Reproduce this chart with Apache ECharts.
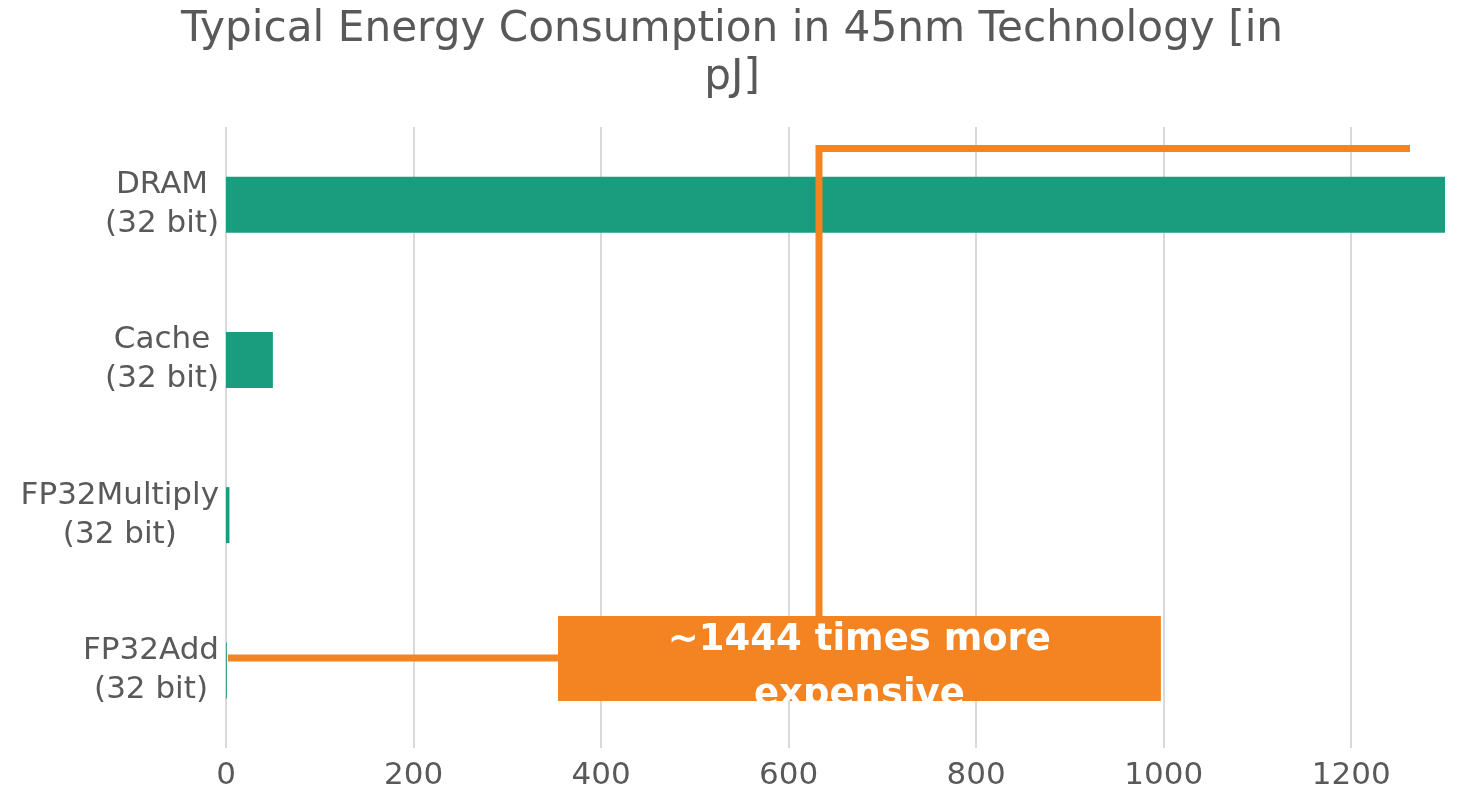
<!DOCTYPE html>
<html>
<head>
<meta charset="utf-8">
<script src="https://cdn.jsdelivr.net/npm/echarts@6/dist/echarts.min.js"></script>
<style>
  html, body { margin: 0; padding: 0; background: #ffffff; }
  #chart { width: 1464px; height: 792px; }
</style>
</head>
<body>
<div id="chart"></div>
<script>
// Energy per operation (pJ), bottom to top on the category axis
var categories = ['FP32Add\n(32 bit)', 'FP32Multiply\n(32 bit)', 'Cache\n(32 bit)', 'DRAM\n(32 bit)'];
var energy = [0.9, 3.7, 50, 1300];
var xTicks = [0, 200, 400, 600, 800, 1000, 1200];

// Callout geometry in data units (x: pJ, y: category index, -0.5..3.5)
var connectorPath = [[2, 0.08], [354, 0.08]];
var leaderPath = [[632.4, 0.35], [632.4, 3.362], [1262.7, 3.362]];
var calloutBox = { x0: 354, x1: 997, yTop: 0.35, yBottom: -0.197 };
var calloutText = '~1444 times more\nexpensive';

var TEXT = '#595959';
var TEAL = '#199d7e';
var ORANGE = '#f48322';
var GRID = '#d9d9d9';
var FONT = 'DejaVu Sans';

var chart = echarts.init(document.getElementById('chart'), null, { renderer: 'canvas' });

chart.setOption({
  animation: false,
  backgroundColor: '#ffffff',
  title: {
    text: 'Typical Energy Consumption in 45nm Technology [in\npJ]',
    left: 'center',
    top: 1,
    textStyle: { fontFamily: FONT, fontSize: 42.2, fontWeight: 'normal', color: TEXT, lineHeight: 48 }
  },
  grid: { left: 226, right: 19, top: 127, bottom: 44 },
  xAxis: [{
    type: 'value',
    min: xTicks[0],
    max: energy[3],
    interval: xTicks[1] - xTicks[0],
    axisLine: { show: false },
    axisTick: { show: false },
    splitLine: { show: true, showMaxLine: false, lineStyle: { color: GRID, width: 2 } },
    axisLabel: {
      showMaxLabel: false,
      margin: 12,
      color: TEXT, fontFamily: FONT, fontSize: 31,
      formatter: function (v) { return String(v); }
    }
  }],
  yAxis: [{
    type: 'category',
    data: categories,
    axisLine: { show: false },
    axisTick: { show: false },
    axisLabel: {
      margin: 7,
      color: TEXT, fontFamily: FONT, fontSize: 31,
      formatter: function (v) {
        return v.split('\n').map(function (s) { return '{c|' + s + '}'; }).join('\n');
      },
      rich: { c: { align: 'center', color: TEXT, fontFamily: FONT, fontSize: 31, lineHeight: 39 } }
    }
  }, {
    type: 'value',
    min: -0.5,
    max: categories.length - 0.5,
    show: false
  }],
  series: [{
    type: 'bar',
    data: energy,
    barWidth: 56,
    itemStyle: { color: TEAL },
    z: 2
  }, {
    type: 'line',
    xAxisIndex: 0,
    yAxisIndex: 1,
    data: connectorPath,
    symbol: 'none',
    silent: true,
    lineStyle: { color: ORANGE, width: 7, cap: 'butt', join: 'miter' },
    z: 3
  }, {
    type: 'line',
    xAxisIndex: 0,
    yAxisIndex: 1,
    data: leaderPath,
    symbol: 'none',
    silent: true,
    lineStyle: { color: ORANGE, width: 7, cap: 'butt', join: 'miter' },
    z: 3
  }, {
    type: 'custom',
    xAxisIndex: 0,
    yAxisIndex: 1,
    silent: true,
    z: 4,
    clip: false,
    data: [[calloutBox.x0, calloutBox.yTop, calloutBox.x1, calloutBox.yBottom]],
    renderItem: function (params, api) {
      var p0 = api.coord([api.value(0), api.value(1)]);
      var p1 = api.coord([api.value(2), api.value(3)]);
      var x = p0[0], y = p0[1], w = p1[0] - p0[0], h = p1[1] - p0[1];
      return {
        type: 'group',
        clipPath: { type: 'rect', shape: { x: x, y: y, width: w, height: h } },
        children: [{
          type: 'rect',
          shape: { x: x, y: y, width: w, height: h },
          style: { fill: ORANGE }
        }, {
          type: 'text',
          style: {
            x: x + w / 2,
            y: y + 52,
            text: calloutText,
            fill: '#ffffff',
            font: 'bold 37px "DejaVu Sans"',
            align: 'center',
            verticalAlign: 'middle',
            lineHeight: 55
          }
        }]
      };
    }
  }]
});
</script>
</body>
</html>
